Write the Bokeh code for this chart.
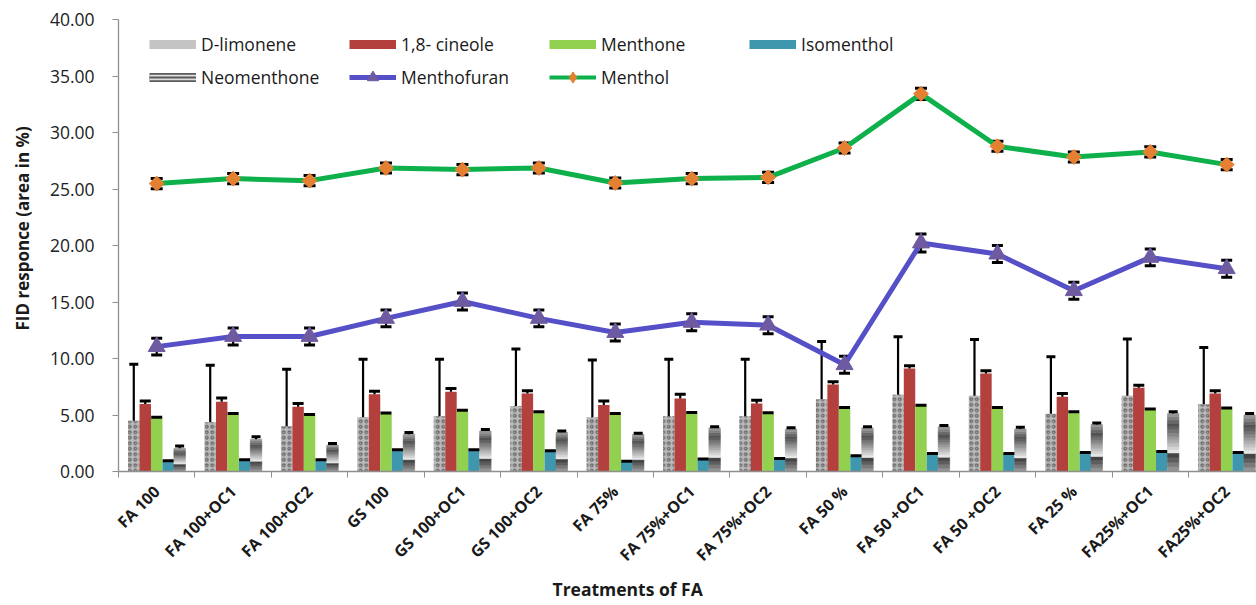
import math
from bokeh.plotting import figure
from bokeh.models import (ColumnDataSource, FixedTicker, NumeralTickFormatter,
                          Legend, LegendItem, Range1d, Title)
from bokeh.embed import file_html
from bokeh.resources import INLINE

# ---------------- data ----------------
treatments = ["FA 100", "FA 100+OC1", "FA 100+OC2", "GS 100", "GS 100+OC1",
              "GS 100+OC2", "FA 75%", "FA 75%+OC1", "FA 75%+OC2", "FA 50 %",
              "FA 50 +OC1", "FA 50 +OC2", "FA 25 %", "FA25%+OC1", "FA25%+OC2"]

d_limonene = [4.50, 4.35, 4.00, 4.80, 4.90, 5.80, 4.80, 4.90, 4.90, 6.40, 6.80, 6.70, 5.10, 6.70, 5.95]
d_limonene_err = [5.00, 5.05, 5.05, 5.13, 5.03, 5.03, 5.06, 5.03, 5.03, 5.10, 5.12, 4.99, 5.06, 5.02, 5.03]
cineole = [5.97, 6.17, 5.73, 6.83, 7.06, 6.91, 5.88, 6.47, 6.02, 7.71, 9.12, 8.68, 6.62, 7.41, 6.91]
cineole_err = [0.28, 0.33, 0.29, 0.28, 0.29, 0.24, 0.35, 0.36, 0.28, 0.23, 0.24, 0.24, 0.29, 0.23, 0.24]
menthone = [4.73, 5.05, 4.97, 5.09, 5.35, 5.20, 5.05, 5.14, 5.12, 5.58, 5.79, 5.58, 5.20, 5.44, 5.53]
menthone_err = [0.08, 0.08, 0.08, 0.08, 0.08, 0.08, 0.08, 0.08, 0.08, 0.08, 0.08, 0.08, 0.08, 0.08, 0.08]
isomenthol = [0.87, 0.95, 0.95, 1.84, 1.84, 1.76, 0.82, 1.02, 1.08, 1.32, 1.52, 1.52, 1.61, 1.70, 1.61]
isomenthol_err = [0.08, 0.08, 0.08, 0.08, 0.08, 0.08, 0.08, 0.08, 0.08, 0.08, 0.08, 0.08, 0.08, 0.08, 0.08]
neomenthone = [2.05, 2.85, 2.34, 3.29, 3.58, 3.47, 3.29, 3.87, 3.76, 3.87, 3.96, 3.76, 4.17, 5.14, 5.00]
neomenthone_err = [0.20, 0.22, 0.14, 0.16, 0.14, 0.12, 0.10, 0.08, 0.12, 0.08, 0.12, 0.16, 0.12, 0.15, 0.13]
menthofuran = [11.05, 11.95, 11.95, 13.55, 15.05, 13.55, 12.30, 13.20, 12.95, 9.45, 20.22, 19.24, 16.00, 18.95, 17.95]
menthofuran_err = [0.75, 0.75, 0.75, 0.75, 0.75, 0.75, 0.75, 0.75, 0.75, 0.75, 0.80, 0.75, 0.75, 0.75, 0.75]
menthol = [25.48, 25.92, 25.74, 26.86, 26.72, 26.86, 25.53, 25.92, 26.03, 28.63, 33.42, 28.78, 27.83, 28.28, 27.16]
menthol_err = [0.45, 0.45, 0.45, 0.45, 0.45, 0.45, 0.45, 0.45, 0.45, 0.45, 0.50, 0.45, 0.45, 0.45, 0.45]

y_ticks = [0, 5, 10, 15, 20, 25, 30, 35, 40]

# ---------------- styles ----------------
FONT = "Open Sans"
RED = "#B3403D"
GREEN = "#92D050"
TEAL = "#3F97AE"
MF_LINE = "#5650C8"
MF_MARK = "#6E5AA0"
MT_LINE = "#0DB04B"
MT_MARK = "#E57F32"
AXIS = "#8f8f8f"

n = len(treatments)
centers = [i + 0.5 for i in range(n)]
BW = 0.15


def xs(off):
    return [c + off for c in centers]


p = figure(width=1256, height=605, x_range=Range1d(0, 14.89), y_range=Range1d(0, 40),
           output_backend="svg", toolbar_location=None,
           min_border_left=117, min_border_right=0, min_border_top=19, min_border_bottom=134)
p.xgrid.visible = False
p.ygrid.visible = False
p.outline_line_color = None
p.background_fill_color = "white"

# ---------------- bars ----------------
dl_kw = dict(fill_color="#b9b9b9", line_color=None, hatch_pattern="ring",
             hatch_color="#5e5e5e", hatch_scale=5.5, hatch_weight=1.1)
p.vbar(x=xs(-0.30), top=d_limonene, width=BW, **dl_kw)
p.vbar(x=xs(-0.15), top=cineole, width=BW, fill_color=RED, line_color=None)
p.vbar(x=xs(0.0), top=menthone, width=BW, fill_color=GREEN, line_color=None)
p.vbar(x=xs(0.15), top=isomenthol, width=BW, fill_color=TEAL, line_color=None)


def neo_shade(f):
    if f < 0.32:
        t = f / 0.32
        g = 160 - (160 - 55) * t
    else:
        t = (f - 0.32) / 0.68
        if t < 0.7:
            g = 240 - (240 - 80) * (t / 0.7)
        else:
            g = 80 + (160 - 80) * ((t - 0.7) / 0.3)
    g = int(round(g))
    return "#%02x%02x%02x" % (g, g, g)


edges = [0.0, 0.08, 0.16, 0.24, 0.32] + [0.32 + 0.68 * k / 12 for k in range(1, 13)]
nx, nb, nt, nc = [], [], [], []
for c, v in zip(xs(0.30), neomenthone):
    for a, b in zip(edges[:-1], edges[1:]):
        nx.append(c)
        nb.append(v * a)
        nt.append(v * b)
        nc.append(neo_shade((a + b) / 2))
p.vbar(x="x", bottom="b", top="t", width=BW, fill_color="c", line_color="c", line_width=0.6,
       source=ColumnDataSource(dict(x=nx, b=nb, t=nt, c=nc)))


def err(x, vals, errs, cap, lower=False, stem_w=2.2):
    up = [v + e for v, e in zip(vals, errs)]
    lo = [v - e for v, e in zip(vals, errs)] if lower else vals
    src = ColumnDataSource(dict(x=x, lo=lo, up=up))
    p.segment(x0="x", y0="lo", x1="x", y1="up", source=src, line_color="black", line_width=stem_w)
    p.scatter(x="x", y="up", source=src, marker="dash", size=cap, line_color="black", line_width=3)
    if lower:
        p.scatter(x="x", y="lo", source=src, marker="dash", size=cap, line_color="black", line_width=3)


err(xs(-0.30), d_limonene, d_limonene_err, 9)
err(xs(-0.15), cineole, cineole_err, 11)
err(xs(0.0), menthone, menthone_err, 11)
err(xs(0.15), isomenthol, isomenthol_err, 11)
err(xs(0.30), neomenthone, neomenthone_err, 9)

# ---------------- lines ----------------
err(centers, menthofuran, menthofuran_err, 11, lower=True)
err(centers, menthol, menthol_err, 12, lower=True)

mf_line = p.line(centers, menthofuran, line_color=MF_LINE, line_width=5)
mf_mark = p.scatter(centers, menthofuran, marker="triangle", size=17, fill_color=MF_MARK, line_color=MF_MARK)
mt_line = p.line(centers, menthol, line_color=MT_LINE, line_width=5)
mt_mark = p.scatter(centers, menthol, marker="square", angle=math.pi / 4, size=10.5,
                    fill_color=MT_MARK, line_color=MT_MARK)


# ---------------- legend (hidden proxy renderers for swatches) ----------------
def proxy_line(vals, color, w):
    r = p.line(centers, vals, line_color=color, line_width=w)
    r.visible = False
    return r


mt_proxy = p.scatter(centers, menthol, marker="diamond", size=12, fill_color=MT_MARK, line_color=MT_MARK)
mt_proxy.visible = False

items = [
    LegendItem(label="D-limonene", renderers=[proxy_line(d_limonene, "#c4c4c4", 9)]),
    LegendItem(label="1,8- cineole", renderers=[proxy_line(cineole, RED, 9)]),
    LegendItem(label="Menthone", renderers=[proxy_line(menthone, GREEN, 9)]),
    LegendItem(label="Isomenthol", renderers=[proxy_line(isomenthol, TEAL, 9)]),
    LegendItem(label="Neomenthone", renderers=[proxy_line(neomenthone, "#5a5a5a", 9),
                                               proxy_line(neomenthone, "#dedede", 5.5),
                                               proxy_line(neomenthone, "#5a5a5a", 2)]),
    LegendItem(label="Menthofuran", renderers=[mf_line, mf_mark]),
    LegendItem(label="Menthol", renderers=[proxy_line(menthol, MT_LINE, 4), mt_proxy]),
]
legend = Legend(items=items, location=(31, 380), orientation="horizontal", ncols=4,
                glyph_width=47, glyph_height=28, label_standoff=5, label_width=143,
                spacing=5, padding=0, margin=0, border_line_color=None,
                background_fill_alpha=0, inactive_fill_alpha=0,
                label_text_font=FONT, label_text_font_size="17.5px",
                label_text_color="#1a1a1a")
p.add_layout(legend)

# ---------------- axes ----------------
yax = p.yaxis[0]
yax.ticker = FixedTicker(ticks=y_ticks)
yax.formatter = NumeralTickFormatter(format="0.00")
yax.major_label_text_font = FONT
yax.major_label_text_font_size = "17.5px"
yax.major_label_text_color = "#222222"
yax.axis_line_color = AXIS
yax.axis_line_width = 1.3
yax.major_tick_line_color = AXIS
yax.major_tick_out = 6
yax.major_tick_in = 0
yax.minor_tick_line_color = None
yax.major_label_standoff = 18

xax = p.xaxis[0]
xax.ticker = FixedTicker(ticks=centers, minor_ticks=list(range(n + 1)))
xax.major_label_overrides = {c: t for c, t in zip(centers, treatments)}
xax.major_label_orientation = math.pi / 4
xax.major_label_text_font = FONT
xax.major_label_text_font_style = "bold"
xax.major_label_text_font_size = "16px"
xax.major_label_text_color = "#1a1a1a"
xax.major_label_standoff = 11
xax.major_tick_line_color = None
xax.major_tick_out = 6
xax.major_tick_in = 0
xax.minor_tick_line_color = AXIS
xax.minor_tick_out = 6
xax.minor_tick_in = 0
xax.axis_line_color = AXIS
xax.axis_line_width = 1.3

p.add_layout(Title(text="Treatments of FA", align="left", offset=434, vertical_align="top",
                   standoff=0, text_font=FONT, text_font_style="bold", text_font_size="17.5px",
                   text_color="#1a1a1a"), "below")
p.add_layout(Title(text="FID responce (area in %)", align="left", offset=141, vertical_align="top",
                   standoff=21, text_font=FONT, text_font_style="bold", text_font_size="17px",
                   text_color="#1a1a1a"), "left")

open("out.html", "w").write(file_html(p, INLINE))
